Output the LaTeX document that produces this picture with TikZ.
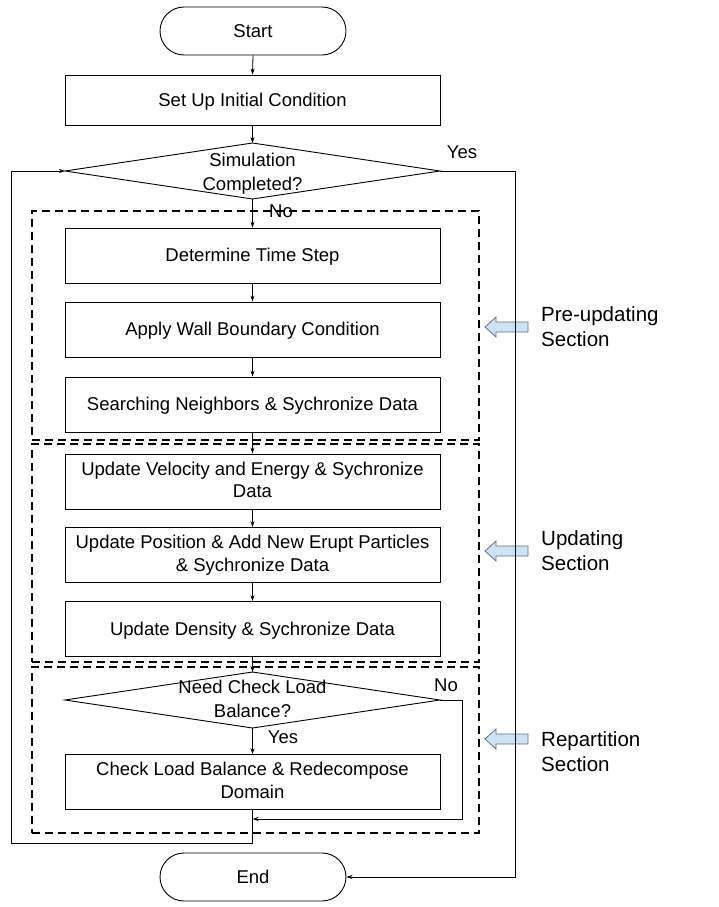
\documentclass[tikz,border=0pt]{standalone}
\usepackage{fontspec}
\setmainfont{Liberation Sans}
\usetikzlibrary{arrows.meta}
\definecolor{arrowfill}{RGB}{207,226,243}
\definecolor{arrowdraw}{RGB}{90,115,145}
\newcommand\bxfont{\fontsize{18.5}{22.5}\selectfont}
\newcommand\dgfont{\fontsize{18.5}{24.5}\selectfont}
\newcommand\sdfont{\fontsize{20.5}{25}\selectfont}
\newcommand\sx{\vrule height 16.7pt depth 3.9pt width 0pt}
\begin{document}
\begin{tikzpicture}[x=1pt,y=1pt,
  box/.style={draw, line width=0.9pt, minimum width=375pt, minimum height=55pt, inner sep=0pt, align=center, font=\bxfont, execute at begin node=\sx},
  term/.style={draw, line width=0.9pt, rounded corners=24pt, minimum width=186pt, minimum height=48pt, inner sep=0pt, font=\bxfont, execute at begin node=\sx},
  conn/.style={line width=0.8pt, -{Stealth[length=6pt,width=4pt]}},
  sect/.style={draw, line width=2pt, dash pattern=on 8pt off 5pt, inner sep=0pt},
  lbl/.style={font=\bxfont, inner sep=0pt, align=center, execute at begin node=\sx},
  dlbl/.style={font=\dgfont, inner sep=0pt, align=center, execute at begin node=\sx},
  side/.style={font=\sdfont, align=left, anchor=west, inner sep=0pt},
  fat/.style={fill=arrowfill, draw=arrowdraw, line width=0.8pt}]
\useasboundingbox (0,0) rectangle (719,-907);
\fill[white] (0,0) rectangle (719,-907);

% dashed sections
\node[sect, minimum width=447pt, minimum height=229pt] (sec1) at (255.5,-325.5) {};
\node[sect, minimum width=447pt, minimum height=218pt] (sec2) at (255.5,-553) {};
\node[sect, minimum width=447pt, minimum height=166pt] (sec3) at (255.5,-750) {};

% terminals and boxes
\node[term] (start) at (253,-31) {Start};
\node[box, minimum height=50pt] (setup) at (252.5,-100) {Set Up Initial Condition};

\coordinate (d1t) at (252.5,-143);
\coordinate (d1r) at (440,-171);
\coordinate (d1b) at (252.5,-199);
\coordinate (d1l) at (65,-171);
\draw[line width=0.9pt] (d1t) -- (d1r) -- (d1b) -- (d1l) -- cycle;
\node[dlbl] (d1) at (252.5,-173.5) {Simulation\\\sx Completed?};

\node[box] (det) at (252.5,-255.5) {Determine Time Step};
\node[box] (wall) at (252.5,-329.5) {Apply Wall Boundary Condition};
\node[box] (search) at (252.5,-404.5) {Searching Neighbors \& Sychronize Data};
\node[box] (vel) at (252.5,-481.5) {Update Velocity and Energy \& Sychronize\\\sx Data};
\node[box] (pos) at (252.5,-555) {Update Position \& Add New Erupt Particles\\\sx\& Sychronize Data};
\node[box] (dens) at (252.5,-629) {Update Density \& Sychronize Data};

\coordinate (d2t) at (252.5,-672);
\coordinate (d2r) at (440,-700);
\coordinate (d2b) at (252.5,-728);
\coordinate (d2l) at (65,-700);
\draw[line width=0.9pt] (d2t) -- (d2r) -- (d2b) -- (d2l) -- cycle;
\node[dlbl] (d2) at (252.5,-700.5) {Need Check Load\\\sx Balance?};

\node[box] (check) at (252.5,-782) {Check Load Balance \& Redecompose\\\sx Domain};
\node[term] (end) at (253,-877) {End};

% side arrows and labels
\foreach \y in {-327,-551,-739}
  \draw[fat] (485,\y) -- ++(11,10) -- ++(0,-5) -- ++(32,0) -- ++(0,-10) -- ++(-32,0) -- ++(0,-5) -- cycle;
\node[side] (pre) at (541,-327) {Pre-updating\\Section};
\node[side] (upd) at (541,-551) {Updating\\Section};
\node[side] (rep) at (541,-752) {Repartition\\Section};

% connectors
\coordinate (ya) at (515,-171);
\coordinate (yb) at (515,-877);
\coordinate (na) at (462,-700);
\coordinate (nb) at (462,-819);
\coordinate (nc) at (252.5,-819);
\coordinate (la) at (252.5,-843);
\coordinate (lb) at (11,-843);
\coordinate (lc) at (11,-171);

\draw[conn] (start.south) -- (setup.north);
\draw[conn] (setup.south) -- (d1t);
\draw[conn] (d1r) -- (ya) -- (yb) -- (end.east);
\draw[conn] (d1b) -- (det.north);
\draw[conn] (det.south) -- (wall.north);
\draw[conn] (wall.south) -- (search.north);
\draw[conn] (search.south) -- (vel.north);
\draw[conn] (vel.south) -- (pos.north);
\draw[conn] (pos.south) -- (dens.north);
\draw[conn] (dens.south) -- (d2t);
\draw[conn] (d2b) -- (check.north);
\draw[conn] (d2r) -- (na) -- (nb) -- (nc);
\draw[conn] (check.south) -- (la) -- (lb) -- (lc) -- (d1l);

% branch labels
\node[lbl] (yes1) at (462,-152) {Yes};
\node[lbl] (no1) at (281,-211) {No};
\node[lbl] (no2) at (446,-685) {No};
\node[lbl] (yes2) at (283,-737) {Yes};
\end{tikzpicture}
\end{document}
